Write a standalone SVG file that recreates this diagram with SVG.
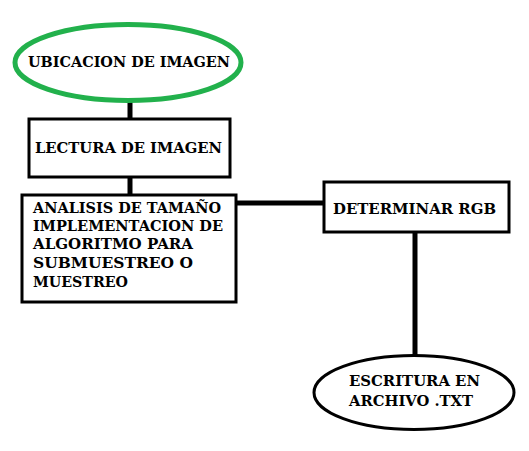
<svg xmlns="http://www.w3.org/2000/svg" width="529" height="451" viewBox="0 0 529 451">
<style>
.t{font-family:"DejaVu Serif","Liberation Serif",serif;font-weight:bold;font-size:15px;fill:#000}
.box{fill:#fff;stroke:#000;stroke-width:3}
.conn{stroke:#000;stroke-width:5;fill:none}
</style>
<rect width="529" height="451" fill="#fff"/>
<g id="connectors">
<line class="conn" x1="130" y1="100" x2="130" y2="119"/>
<line class="conn" x1="130" y1="178" x2="130" y2="194"/>
<line class="conn" x1="235" y1="203" x2="323" y2="203"/>
<line class="conn" x1="415" y1="233" x2="415" y2="356"/>
</g>
<g id="ubicacion">
<ellipse cx="128" cy="62.5" rx="113" ry="38" fill="#fff" stroke="#22b14c" stroke-width="5"/>
<text class="t" x="28" y="67" textLength="202" lengthAdjust="spacingAndGlyphs">UBICACION DE IMAGEN</text>
</g>
<g id="lectura">
<rect class="box" x="29" y="119" width="201" height="58"/>
<text class="t" x="35" y="153" textLength="187" lengthAdjust="spacingAndGlyphs">LECTURA DE IMAGEN</text>
</g>
<g id="analisis">
<rect class="box" x="22" y="195" width="214" height="107"/>
<text class="t" x="33" y="213" textLength="188" lengthAdjust="spacingAndGlyphs">ANALISIS DE TAMAÑO</text>
<text class="t" x="33" y="231" textLength="190" lengthAdjust="spacingAndGlyphs">IMPLEMENTACION DE</text>
<text class="t" x="33" y="249" textLength="160" lengthAdjust="spacingAndGlyphs">ALGORITMO PARA</text>
<text class="t" x="33" y="268" textLength="160" lengthAdjust="spacingAndGlyphs">SUBMUESTREO O</text>
<text class="t" x="33" y="287" textLength="95" lengthAdjust="spacingAndGlyphs">MUESTREO</text>
</g>
<g id="rgb">
<rect class="box" x="324" y="182" width="185" height="50"/>
<text class="t" x="333" y="214" textLength="163" lengthAdjust="spacingAndGlyphs">DETERMINAR RGB</text>
</g>
<g id="escritura">
<ellipse cx="414" cy="392.5" rx="100" ry="37" fill="#fff" stroke="#000" stroke-width="3"/>
<text class="t" x="349" y="386" textLength="131" lengthAdjust="spacingAndGlyphs">ESCRITURA EN</text>
<text class="t" x="349" y="406" textLength="124" lengthAdjust="spacingAndGlyphs">ARCHIVO .TXT</text>
</g>
</svg>
